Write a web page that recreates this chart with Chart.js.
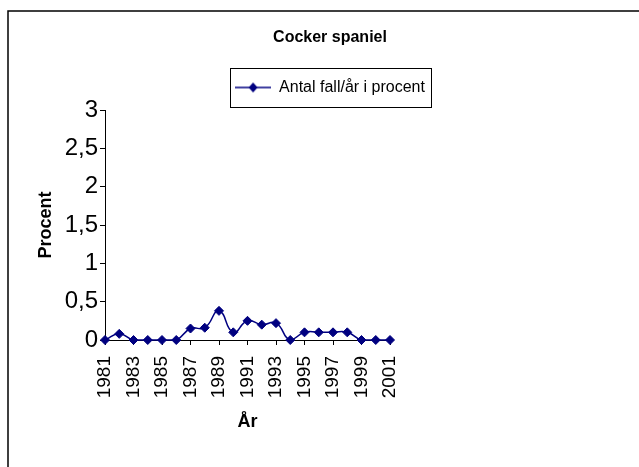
<!DOCTYPE html>
<html>
<head>
<meta charset="utf-8">
<script src="https://cdn.jsdelivr.net/npm/chart.js@4.4.0/dist/chart.umd.min.js"></script>
<style>
  html, body { margin: 0; padding: 0; background: #fff; }
</style>
</head>
<body>
<canvas id="chart" width="639" height="467"></canvas>
<script>
// Data
const years = ['1981', '1982', '1983', '1984', '1985', '1986', '1987', '1988', '1989', '1990', '1991',
               '1992', '1993', '1994', '1995', '1996', '1997', '1998', '1999', '2000', '2001'];
const procent = [0, 0.08, 0, 0, 0, 0, 0.15, 0.16, 0.38, 0.10, 0.25,
                 0.20, 0.22, 0, 0.10, 0.10, 0.10, 0.10, 0, 0, 0];
const seriesName = 'Antal fall/år i procent';
const yMin = 0, yMax = 3, yStep = 0.5;

const font = '"Liberation Sans", Arial, sans-serif';
const navy = '#000080';

// legend symbol: line with a diamond in the middle
const icon = document.createElement('canvas');
icon.width = 36; icon.height = 12;
(() => {
    const c = icon.getContext('2d');
    c.strokeStyle = navy; c.lineWidth = 1.4;
    c.beginPath(); c.moveTo(0, 6); c.lineTo(36, 6); c.stroke();
    c.fillStyle = navy;
    c.beginPath(); c.moveTo(18, 1); c.lineTo(22.5, 6); c.lineTo(18, 11); c.lineTo(13.5, 6); c.closePath(); c.fill();
})();

// outer frame + box round the legend
const frames = {
    id: 'frames',
    afterInit(chart) {
        const lg = chart.legend;
        const fit = lg.fit;
        lg.fit = function () { fit.call(this); this.height += 4.5; };
    },
    beforeDraw(chart) {
        const ctx = chart.ctx;
        ctx.save();
        ctx.fillStyle = '#fff';
        ctx.fillRect(0, 0, chart.width, chart.height);
        ctx.strokeStyle = '#000';
        ctx.lineWidth = 1.5;
        ctx.strokeRect(8, 11, 700, 500);
        ctx.restore();
    },
    afterDraw(chart) {
        const hb = chart.legend.legendHitBoxes[0];
        if (!hb) return;
        const ctx = chart.ctx;
        const cy = hb.top + hb.height / 2;
        ctx.save();
        ctx.strokeStyle = '#000';
        ctx.lineWidth = 1;
        ctx.strokeRect(Math.round(hb.left - 5) + 0.5, Math.round(cy - 19.5) + 0.5,
                       Math.round(hb.width + 11), 39);
        ctx.restore();
    }
};

new Chart(document.getElementById('chart'), {
    type: 'line',
    data: {
        labels: years,
        datasets: [{
            label: seriesName,
            data: procent,
            borderColor: navy,
            backgroundColor: navy,
            borderWidth: 1.5,
            tension: 0.5,
            pointStyle: 'rectRot',
            pointRadius: 4.5,
            pointBorderWidth: 1,
            pointBackgroundColor: navy,
            pointBorderColor: navy,
            clip: false
        }]
    },
    options: {
        responsive: false,
        animation: false,
        layout: { padding: { left: 21, right: 0, top: 0, bottom: 27 } },
        plugins: {
            title: {
                display: true,
                text: 'Cocker spaniel',
                color: '#000',
                font: { family: font, size: 16, weight: 'bold' },
                padding: { top: 28.4, bottom: 21.9 }
            },
            legend: {
                display: true,
                position: 'top',
                labels: {
                    usePointStyle: true,
                    pointStyle: icon,
                    pointStyleWidth: 36,
                    color: '#000',
                    padding: 10,
                    font: { family: font, size: 16 }
                }
            },
            tooltip: { enabled: false }
        },
        scales: {
            x: {
                type: 'category',
                offset: false,
                afterFit: s => { s.height = 100; },
                grid: { drawOnChartArea: false, drawTicks: true, tickLength: 5, color: '#000' },
                border: { color: '#000', width: 1 },
                ticks: {
                    autoSkip: false,
                    minRotation: 90,
                    maxRotation: 90,
                    padding: 11,
                    color: '#000',
                    font: { family: font, size: 19 },
                    callback: function (v, i) { return i % 2 === 0 ? this.getLabelForValue(v) : null; }
                },
                title: {
                    display: true,
                    text: 'År',
                    color: '#000',
                    font: { family: font, size: 18, weight: 'bold' },
                    padding: { top: 0, bottom: 7 }
                }
            },
            y: {
                min: yMin,
                max: yMax,
                afterFit: s => { s.width = 84; },
                grid: { drawOnChartArea: false, drawTicks: true, tickLength: 5, color: '#000' },
                border: { color: '#000', width: 1 },
                ticks: {
                    stepSize: yStep,
                    padding: 2,
                    color: '#000',
                    font: { family: font, size: 24 },
                    callback: v => String(v).replace('.', ',')
                },
                title: {
                    display: true,
                    text: 'Procent',
                    color: '#000',
                    font: { family: font, size: 18, weight: 'bold' },
                    padding: { top: 14, bottom: 0 }
                }
            },
            yR: {
                type: 'linear',
                position: 'right',
                afterFit: s => { s.width = 249; },
                grid: { display: false },
                border: { display: false },
                ticks: { display: false }
            }
        }
    },
    plugins: [frames]
});
</script>
</body>
</html>
